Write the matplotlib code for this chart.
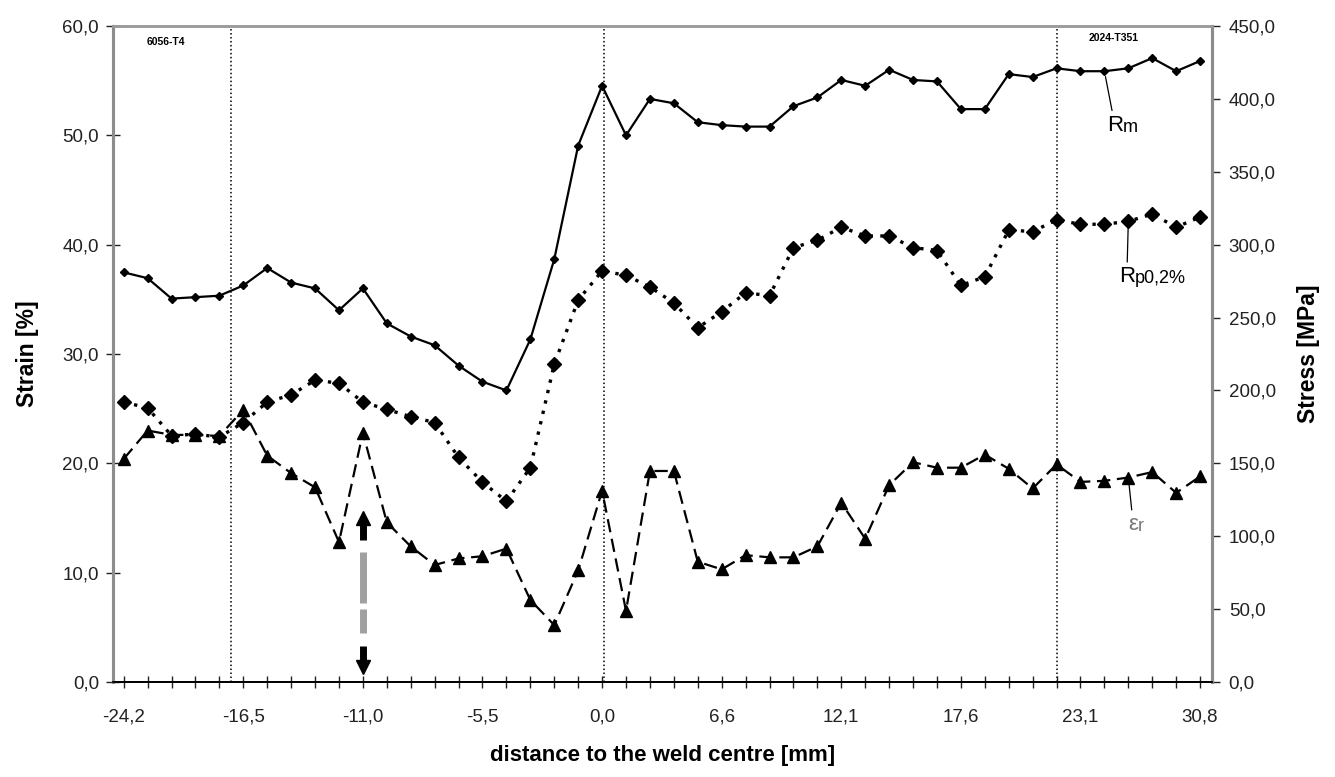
import numpy as np
import matplotlib
matplotlib.use("Agg")
import matplotlib.pyplot as plt

plt.rcParams['font.family'] = ['Liberation Sans', 'DejaVu Sans']

# category labels on the x axis (one every 5 measuring points)
x_labels = ["-24,2", "-16,5", "-11,0", "-5,5", "0,0", "6,6", "12,1", "17,6", "23,1", "30,8"]

# tensile strength Rm [MPa]
rm = [281, 277, 263, 264, 265, 272, 284, 274, 270, 255,
      270, 246, 237, 231, 217, 206, 200, 235, 290, 368,
      409, 375, 400, 397, 384, 382, 381, 381, 395, 401,
      413, 409, 420, 413, 412, 393, 393, 417, 415, 421,
      419, 419, 421, 428, 419, 426]

# yield strength Rp0,2 [MPa]
rp = [192, 188, 169, 170, 168, 178, 192, 197, 207, 205,
      192, 187, 182, 178, 154, 137, 124, 147, 218, 262,
      282, 279, 271, 260, 243, 254, 267, 265, 298, 303,
      312, 306, 306, 298, 296, 272, 278, 310, 309, 317,
      314, 314, 316, 321, 312, 319]

# strain at rupture [%]
er = [20.4, 23.0, 22.6, 22.6, 22.5, 24.9, 20.7, 19.1, 17.8, 12.8,
      22.8, 14.6, 12.4, 10.7, 11.3, 11.5, 12.2, 7.5, 5.2, 10.2,
      17.5, 6.5, 19.3, 19.3, 11.0, 10.3, 11.6, 11.4, 11.4, 12.4,
      16.4, 13.1, 18.0, 20.1, 19.6, 19.6, 20.8, 19.5, 17.7, 19.9,
      18.3, 18.4, 18.7, 19.2, 17.3, 18.8]

# zone boundaries (in measuring point index) and failure location
boundaries = [4.47, 20.1, 39.0]
failure_idx = 10


def fmt(v):
    return f"{v:.1f}".replace(".", ",")


def label(a, big, small, xy, xytext, color='black'):
    # big letter with leader line, smaller suffix right after it
    lead = dict(arrowstyle='-', color='black', lw=0.9, shrinkA=1, shrinkB=4)
    t = a.annotate(big, xy=xy, xytext=xytext, fontsize=16, ha='left',
                   va='center', color=color, arrowprops=lead, zorder=5)
    a.annotate(small, xy=(1, 0), xycoords=t, fontsize=13, ha='left',
               va='bottom', color=color, zorder=5)


def draw():
    n = len(rm)
    pos = np.arange(n)

    fig = plt.figure(figsize=(13.35, 7.77), dpi=100)
    ax = fig.add_axes([0.0846, 0.1223, 0.8233, 0.8442])
    ax2 = ax.twinx()

    for b in boundaries:
        ax.axvline(b, color='black', lw=1.1, ls=(0, (1, 1.6)), zorder=1)

    ax.plot(pos, er, color='black', lw=1.6, ls=(0, (6, 3)),
            marker='^', ms=9, zorder=3)
    ax2.plot(pos, rp, color='black', lw=2.4, ls=(0, (1, 2.2)),
             marker='D', ms=7.5, zorder=3)
    ax2.plot(pos, rm, color='black', lw=1.6, ls='-',
             marker='D', ms=4.5, zorder=3)

    # failure arrow
    ax.plot([failure_idx] * 2, [13.0, 14.6], color='black', lw=5, solid_capstyle='butt')
    ax.plot(failure_idx, 15.0, marker='^', ms=10, color='black')
    ax.plot([failure_idx] * 2, [7.2, 11.9], color='#a0a0a0', lw=5, solid_capstyle='butt')
    ax.plot([failure_idx] * 2, [4.5, 6.7], color='#a0a0a0', lw=5, solid_capstyle='butt')
    ax.plot([failure_idx] * 2, [1.9, 3.3], color='black', lw=5, solid_capstyle='butt')
    ax.plot(failure_idx, 1.4, marker='v', ms=10, color='black')

    ax.set_xlim(-0.45, n - 0.5)
    ax.set_ylim(0, 60)
    ax2.set_ylim(0, 450)

    ax.set_xticks(pos)
    ax.set_xticklabels([x_labels[i // 5] if i % 5 == 0 else "" for i in pos])
    ax.set_yticks(np.arange(0, 61, 10))
    ax.set_yticklabels([fmt(v) for v in np.arange(0, 61, 10)])
    ax2.set_yticks(np.arange(0, 451, 50))
    ax2.set_yticklabels([fmt(v) for v in np.arange(0, 451, 50)])

    ax.tick_params(axis='x', direction='inout', length=8, width=1, pad=15,
                   labelsize=13.5, colors='#222222')
    ax.tick_params(axis='y', direction='inout', length=10, width=1, pad=5,
                   labelsize=13.5, colors='#222222')
    ax2.tick_params(axis='y', direction='out', length=6, width=1, pad=6,
                    labelsize=13.5, colors='#222222')

    for a in (ax, ax2):
        a.spines['left'].set_color('#8c8c8c')
        a.spines['left'].set_linewidth(2.2)
        a.spines['right'].set_color('#8c8c8c')
        a.spines['right'].set_linewidth(2.2)
        a.spines['top'].set_color('#9a9a9a')
        a.spines['top'].set_linewidth(1.8)
        a.spines['bottom'].set_color('black')
        a.spines['bottom'].set_linewidth(1.3)

    ax.set_ylabel("Strain [%]", fontsize=16.5, fontweight='bold', labelpad=17)
    ax2.set_ylabel("Stress [MPa]", fontsize=16.5, fontweight='bold', labelpad=15)
    ax.set_xlabel("distance to the weld centre [mm]", fontsize=16,
                  fontweight='bold', labelpad=14)

    # series labels with leader lines
    label(ax2, "R", "m", (41, rm[41]), (41.1, 382))
    label(ax2, "R", "p0,2%", (42, rp[42]), (41.6, 278))
    label(ax, "ε", "r", (42, er[42]), (42.0, 14.4), color='#777777')

    ax.text(1.75, 58.5, "6056-T4", fontsize=7.5, fontweight='bold',
            ha='center', va='center')
    ax.text(41.4, 58.9, "2024-T351", fontsize=7.5, fontweight='bold',
            ha='center', va='center')

    fig.savefig("out.png", dpi=100)
    plt.close(fig)


if __name__ == "__main__":
    draw()
